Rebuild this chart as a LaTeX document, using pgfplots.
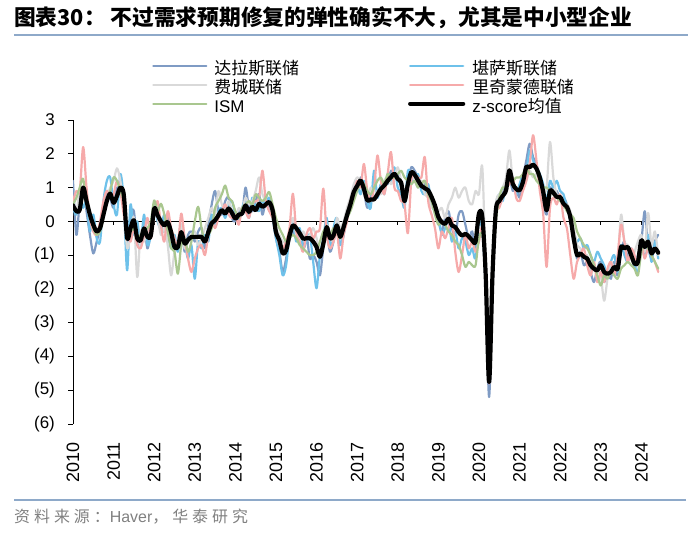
\documentclass[border=0pt]{standalone}
\usepackage{fontspec}
\setmainfont{Liberation Sans}
\newfontfamily\cjk{Noto Sans CJK SC}
\newfontfamily\cjksp[LetterSpace=25]{Noto Sans CJK SC}
\usepackage{pgfplots}
\usepackage{pgfplotstable}
\pgfplotsset{compat=1.18}
\definecolor{dallas}{HTML}{7F9BC4}
\definecolor{kc}{HTML}{6EC1EA}
\definecolor{philly}{HTML}{D9D9D9}
\definecolor{rich}{HTML}{F6AAAA}
\definecolor{ism}{HTML}{A9C78F}
\definecolor{rulec}{HTML}{8EA9C9}
\definecolor{srcgray}{HTML}{808080}

\pgfplotstableread{
D K P R I Z
1.20 0.40 0.60 0.60 0.50 0.47
-0.40 0.20 0.30 0.90 0.70 0.30
0.60 0.70 0.90 0.90 1.00 0.35
1.00 0.40 1.00 2.20 1.26 1.00
0.30 0.60 0.50 1.00 0.50 0.60
-0.40 -0.30 0.10 0.10 0.20 0.20
-0.95 0.20 -0.20 -0.30 -0.20 -0.10
-0.60 -0.50 -0.40 -0.40 -0.40 -0.30
-0.20 -0.60 -0.10 0.00 -0.30 -0.20
0.30 0.60 0.40 0.60 0.10 0.20
0.90 1.20 0.70 0.90 0.60 0.60
0.70 1.30 1.00 0.70 0.90 0.82
0.40 0.50 1.20 0.80 1.30 0.55
1.00 0.20 1.57 1.20 1.20 0.75
0.80 1.40 1.20 0.90 0.90 1.00
0.50 0.60 0.40 0.20 0.60 0.80
-0.60 -1.45 -0.80 -0.30 -0.20 -0.50
0.20 0.50 -0.40 -0.60 -0.30 -0.20
0.30 -0.40 0.10 -0.20 -0.20 0.03
-0.70 0.00 -1.65 -0.70 -0.50 -0.51
-0.60 -0.70 -0.30 -0.80 -0.40 -0.56
-0.10 0.20 -0.60 -0.40 -0.30 -0.21
-0.80 -0.70 -0.20 0.10 -0.20 -0.46
-0.30 -0.40 -0.50 -0.50 0.00 -0.42
0.30 0.50 0.20 0.20 0.62 0.38
0.40 0.00 0.10 0.60 0.30 0.18
-0.10 -0.20 -0.40 -0.10 0.52 0.00
-0.30 0.20 -0.20 -0.60 0.20 -0.12
0.20 -0.30 -0.70 0.30 -0.30 -0.02
-0.50 -0.80 -1.60 -0.20 -0.80 -0.32
-0.80 -0.40 -0.90 -0.50 -0.90 -0.76
-0.60 -0.90 -0.60 -0.70 -1.55 -0.76
-0.10 -0.20 -0.10 0.23 -0.70 -0.32
-0.90 -0.60 -0.80 -0.50 -0.50 -0.66
-0.40 -1.10 -0.60 -1.10 -0.90 -0.55
-0.30 -0.70 -0.40 -1.50 -0.60 -0.46
-0.60 -1.70 -0.30 -1.10 0.00 -0.46
-0.30 -0.60 -0.70 -0.80 0.43 -0.46
-0.20 -0.80 -0.50 -0.70 -0.20 -0.46
-0.80 -0.40 -0.20 -1.00 -0.60 -0.60
-0.10 -0.60 0.10 -0.40 -0.40 -0.32
0.50 0.20 0.40 0.00 -0.20 -0.05
0.90 -0.10 0.20 -0.20 0.40 0.03
0.30 0.30 0.90 0.10 0.60 0.18
0.20 0.40 0.50 0.30 0.80 0.33
0.60 0.10 0.30 0.50 1.06 0.23
0.70 0.50 0.60 0.20 0.70 0.38
0.10 0.60 0.30 0.10 0.60 0.25
0.00 0.20 0.10 0.20 0.30 0.08
0.30 0.00 0.40 -0.10 0.10 0.20
0.20 0.40 0.30 0.40 0.40 0.23
1.00 0.60 0.70 0.30 0.50 0.47
0.40 0.10 0.50 0.10 0.60 0.28
0.30 0.70 0.60 0.50 0.50 0.43
0.60 0.40 0.90 0.60 0.80 0.33
0.80 0.30 1.30 0.70 0.70 0.52
0.20 0.60 0.80 1.50 0.60 0.43
0.60 0.50 0.60 0.60 0.70 0.50
0.40 0.70 0.50 0.30 0.87 0.57
0.20 0.10 0.20 0.10 0.50 0.33
-0.50 -0.50 -0.20 -0.30 0.10 -0.32
-0.90 -1.00 -0.40 -0.70 -0.20 -0.56
-1.50 -1.60 -0.60 -0.80 -0.40 -0.95
-1.10 -1.30 -0.60 -0.60 -0.60 -0.86
-0.50 -0.40 -0.30 -0.20 -0.50 -0.42
-0.30 0.00 0.10 0.82 -0.40 -0.12
-0.50 -0.60 -0.40 -0.30 -0.50 -0.20
-0.60 -0.20 -0.60 -0.60 -0.70 -0.35
-0.80 -0.80 -0.30 -0.90 -0.80 -0.51
-0.40 -0.60 -0.50 -0.40 -0.90 -0.50
-1.10 -0.40 -0.40 -0.20 -1.00 -0.50
-1.00 -1.20 -0.20 -0.50 -1.00 -0.60
-1.20 -1.98 -0.50 -0.30 -0.90 -0.76
-1.60 -1.00 -0.90 -0.20 -0.60 -1.05
-0.80 -0.50 -0.60 0.97 -0.30 -0.66
-0.40 0.10 -0.10 -0.40 -0.20 -0.17
-0.90 -0.80 -0.40 -0.80 -0.40 -0.51
-0.60 -0.20 -0.60 -0.60 -0.20 -0.42
-0.20 0.10 0.10 -0.30 -0.30 -0.12
-0.70 -0.70 -0.20 -1.10 -0.50 -0.46
-0.40 -0.40 0.00 -0.40 -0.10 -0.17
0.20 0.30 0.40 0.00 0.10 0.18
0.40 0.60 0.70 0.60 0.30 0.50
0.90 1.00 1.10 0.80 0.60 0.87
1.00 1.10 1.30 1.20 0.90 1.05
1.30 0.80 1.20 1.00 1.20 1.21
0.90 1.20 0.80 1.70 1.10 0.96
0.40 0.60 0.60 0.90 0.90 0.62
0.80 0.40 1.00 0.60 0.80 0.65
0.70 1.50 0.70 1.00 1.00 0.65
0.90 0.70 0.90 1.95 1.20 0.80
1.00 1.10 0.80 1.20 1.30 0.96
1.20 0.80 1.20 0.80 1.10 1.06
1.10 1.40 1.30 1.40 1.40 1.20
1.50 1.20 1.10 2.05 1.30 1.31
1.30 1.60 1.30 1.00 1.30 1.41
1.40 1.00 1.60 0.90 1.40 1.25
1.00 0.80 1.20 0.60 1.50 1.15
0.70 0.40 0.80 0.50 1.30 0.60
1.20 1.50 1.00 -0.35 1.20 1.11
1.60 1.30 1.40 1.20 1.10 1.46
1.50 1.20 1.20 1.40 1.20 1.38
1.30 1.40 1.00 1.30 1.00 1.21
1.00 0.90 1.20 1.30 1.10 1.05
1.10 0.80 0.80 1.90 1.20 0.98
0.90 1.10 0.70 0.60 0.80 0.92
0.60 0.50 0.40 0.20 0.60 0.72
0.40 0.30 0.50 -0.20 0.20 0.47
0.00 0.20 0.30 -0.80 -0.10 0.13
-0.30 -0.40 0.40 -0.30 0.00 -0.02
0.10 -0.20 0.10 -0.50 -0.10 -0.07
0.30 0.00 0.50 -0.20 -0.30 0.08
-0.20 -0.60 0.70 0.10 -0.40 -0.12
-0.40 -0.30 1.00 -0.90 -0.60 -0.17
0.20 -0.80 0.70 -1.50 -0.70 -0.32
0.30 -0.50 0.90 -1.00 -1.00 -0.42
-0.10 -0.60 1.00 -0.40 -1.35 -0.37
-0.50 -1.00 0.60 -0.80 -1.20 -0.45
-0.30 -0.80 0.50 -0.60 -1.30 -0.56
-0.80 -1.10 0.90 -0.90 -1.30 -0.60
0.10 0.00 0.80 -0.60 -0.50 0.23
-0.20 -0.30 1.60 -0.20 -0.40 0.13
-2.00 -1.80 -1.50 -1.80 -1.50 -1.60
-5.20 -4.60 -4.50 -4.80 -4.50 -4.76
-2.00 -1.80 -1.50 -1.80 -1.50 -1.60
0.20 0.40 0.50 0.20 0.00 0.33
0.50 0.80 0.80 0.40 0.70 0.60
0.80 0.60 1.00 0.70 1.00 0.75
1.10 1.10 1.30 1.00 1.00 0.92
1.30 1.40 2.10 1.10 1.30 1.51
0.90 1.30 1.20 1.30 1.20 1.11
1.00 0.80 1.00 0.70 1.30 0.96
0.70 1.10 0.90 0.60 1.30 0.92
1.30 1.40 1.00 0.90 1.40 1.16
1.80 1.50 1.20 1.20 1.60 1.61
2.30 2.10 1.50 1.70 1.40 1.60
1.90 1.80 1.30 2.55 1.40 1.68
1.70 1.60 1.40 1.80 1.20 1.56
1.20 1.40 1.10 0.90 1.10 1.30
0.60 1.10 0.90 0.20 1.00 0.87
0.20 0.60 1.00 -1.35 1.00 0.33
1.00 1.20 2.35 0.40 0.90 0.90
0.80 1.00 1.30 0.70 0.80 0.85
0.90 1.20 0.80 0.50 0.70 0.72
0.60 0.90 0.70 0.80 0.60 0.72
0.70 0.80 0.40 0.10 0.50 0.52
0.50 0.40 0.50 -0.20 0.30 0.43
0.00 0.20 0.30 -1.00 0.20 0.13
-0.50 -0.30 -0.20 -1.70 0.10 -0.50
-1.10 -0.60 -0.70 -1.20 -0.30 -1.00
-0.90 -0.50 -0.80 -1.00 -0.50 -0.95
-1.30 -0.80 -1.10 -0.80 -0.70 -1.05
-1.20 -0.70 -1.00 -1.30 -0.80 -1.10
-1.50 -1.00 -1.60 -1.60 -1.00 -1.30
-1.80 -1.20 -1.30 -1.20 -1.30 -1.40
-1.40 -0.90 -1.50 -1.80 -1.60 -1.45
-1.20 -1.10 -1.60 -1.50 -1.90 -1.30
-1.80 -1.30 -2.35 -1.80 -1.60 -1.50
-1.50 -1.60 -1.70 -1.40 -1.70 -1.55
-1.70 -1.20 -1.20 -1.20 -1.50 -1.50
-1.20 -1.00 -1.40 -1.60 -1.60 -1.35
-1.60 -1.50 -1.30 -1.00 -1.70 -1.40
-0.90 -0.70 0.20 -0.10 -1.40 -0.76
-0.60 -1.00 -0.60 -0.60 -1.30 -0.80
-1.10 -1.20 -0.70 -1.20 -1.20 -0.76
-0.90 -0.80 -1.10 -0.80 -1.30 -1.00
-1.40 -1.30 -0.90 -1.00 -1.40 -1.25
-1.00 -1.50 -0.60 -1.30 -1.60 -1.20
-0.60 -0.80 -0.40 -0.70 -0.90 -0.56
0.30 -1.00 -0.90 -1.10 -0.60 -0.76
-0.70 -0.40 0.25 -0.80 -0.80 -0.60
-1.10 -1.20 -0.70 -1.00 -1.00 -0.95
-0.60 -0.60 -0.30 -1.20 -1.20 -0.80
-0.40 -1.10 -1.00 -1.50 -1.40 -0.93
}\data

\begin{document}
\begin{tikzpicture}
\useasboundingbox (0,0) rectangle (700bp,-535bp);
\node[anchor=west, inner sep=0pt, font=\cjk\bfseries\fontsize{21.8}{26}\selectfont] at (14bp,-18bp) {图表30：\hspace{5bp}不过需求预期修复的弹性确实不大，尤其是中小型企业};
\draw[rulec, line width=1.4bp] (14bp,-35bp) -- (688bp,-35bp);
\draw[rulec, line width=1.4bp] (14bp,-500bp) -- (686bp,-500bp);
\node[anchor=west, inner sep=0pt, text=srcgray, font=\fontsize{16}{19}\selectfont] at (14bp,-517bp) {{\cjksp 资料来源：}Haver{\cjksp ，华泰研究}};

\begin{axis}[
  at={(73bp,-424bp)}, anchor=south west,
  scale only axis, width=587bp, height=304bp,
  xmin=2010, xmax=2024.46, ymin=-6, ymax=3,
  axis y line*=left, axis x line*=bottom,
  x axis line style={draw=none},
  y axis line style={black, line width=0.9bp},
  xtick={2010,2011,2012,2013,2014,2015,2016,2017,2018,2019,2020,2021,2022,2023,2024},
  xticklabels={2010,2011,2012,2013,2014,2015,2016,2017,2018,2019,2020,2021,2022,2023,2024},
  xtick style={draw=none},
  ytick={-6,-5,-4,-3,-2,-1,0,1,2,3},
  yticklabels={(6),(5),(4),(3),(2),(1),0,1,2,3},
  tick align=outside, major tick length=5bp,
  ytick style={black, line width=0.9bp},
  tick label style={font=\fontsize{17}{20}\selectfont, black},
  xticklabel style={rotate=90, anchor=east, inner sep=0pt, xshift=-13bp, font=\fontsize{18}{20}\selectfont},
  yticklabel style={inner sep=0pt, xshift=-13bp},
  legend columns=2,
  legend cell align=left,
  legend image code/.code={\draw[#1] (0bp,5bp) -- (53bp,5bp);},
  legend style={draw=none, fill=none, at={(0.1346,1.194)}, anchor=north west,
    font=\fontsize{17}{20}\selectfont, inner sep=0pt, row sep=0pt,
    /tikz/every even column/.append style={column sep=108bp},
    /tikz/every odd column/.append style={column sep=6bp},
    nodes={inner sep=1bp, text height=12.5bp, text depth=4.5bp}},
  every axis plot/.append style={line join=round, line cap=round},
]
\draw[black, line width=1bp] (axis cs:2010,0) -- (axis cs:2024.46,0);
\pgfplotsinvokeforeach{2011,2012,2013,2014,2015,2016,2017,2018,2019,2020,2021,2022,2023,2024}{
  \draw[black, line width=0.9bp] (axis cs:#1,0) -- ++(0bp,-4bp);
}
\addplot[dallas, line width=2.2bp, smooth] table[x expr=2010+\coordindex/12, y=D] {\data};
\addlegendentry{\cjk 达拉斯联储}
\addplot[kc, line width=2.2bp, smooth] table[x expr=2010+\coordindex/12, y=K] {\data};
\addlegendentry{\cjk 堪萨斯联储}
\addplot[philly, line width=2.2bp, smooth] table[x expr=2010+\coordindex/12, y=P] {\data};
\addlegendentry{\cjk 费城联储}
\addplot[rich, line width=2.2bp, smooth] table[x expr=2010+\coordindex/12, y=R] {\data};
\addlegendentry{\cjk 里奇蒙德联储}
\addplot[ism, line width=2.2bp, smooth] table[x expr=2010+\coordindex/12, y=I] {\data};
\addlegendentry{ISM}
\addplot[black, line width=4.2bp, smooth] table[x expr=2010+\coordindex/12, y=Z] {\data};
\addlegendentry{z-score{\cjk 均值}}
\end{axis}
\end{tikzpicture}
\end{document}
